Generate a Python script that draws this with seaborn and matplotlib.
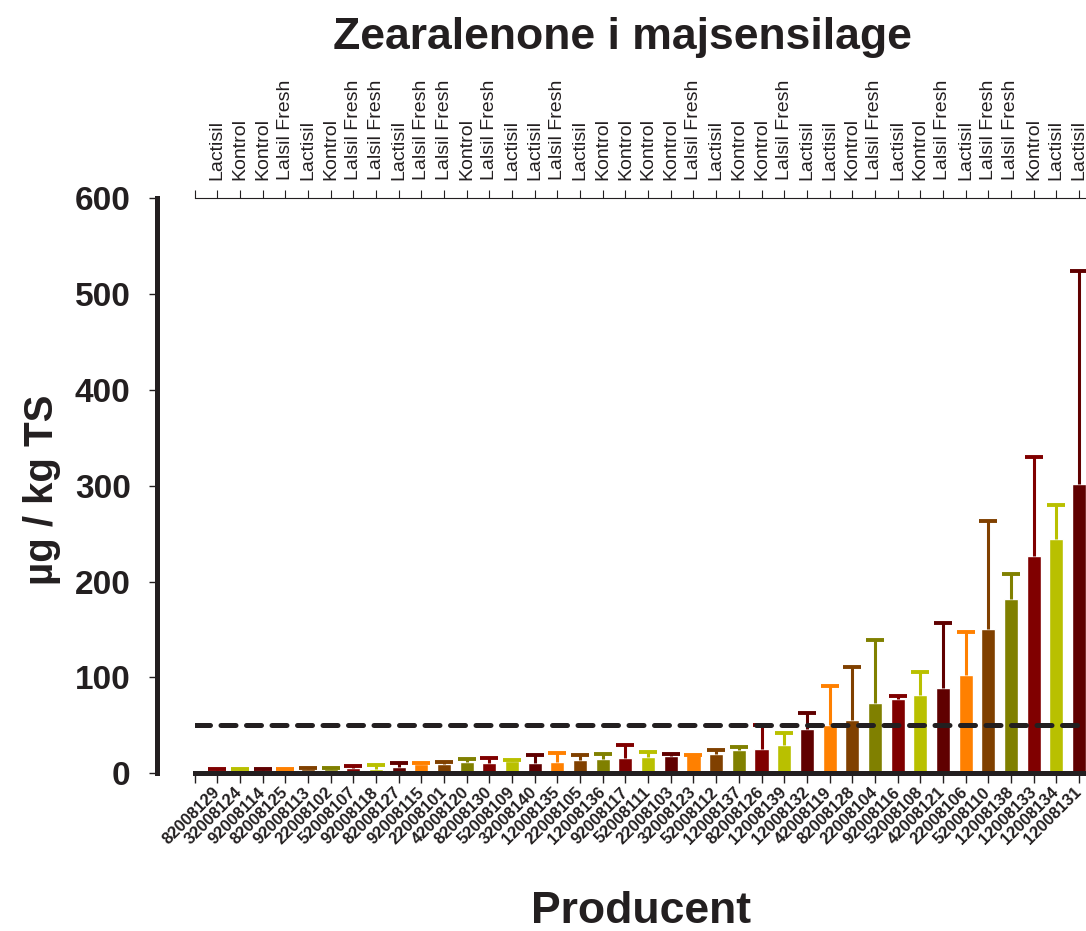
import numpy as np
import seaborn as sns
import matplotlib.pyplot as plt

# Zearalenone i majsensilage - middel og std. afv. pr. producent
producers = ['82008129', '32008124', '92008114', '82008125', '92008113', '22008102',
             '52008107', '92008118', '82008127', '92008115', '22008101', '42008120',
             '82008130', '52008109', '32008140', '12008135', '22008105', '12008136',
             '92008117', '52008111', '22008103', '32008123', '52008112', '12008137',
             '82008126', '12008139', '12008132', '42008119', '82008128', '22008104',
             '92008116', '52008108', '42008121', '22008106', '52008110', '12008138',
             '12008133', '12008134', '12008131']

treatment = ['Lactisil', 'Kontrol', 'Kontrol', 'Lalsil Fresh', 'Lactisil', 'Kontrol',
             'Lalsil Fresh', 'Lalsil Fresh', 'Lactisil', 'Lalsil Fresh', 'Lalsil Fresh',
             'Kontrol', 'Lalsil Fresh', 'Lactisil', 'Lactisil', 'Lalsil Fresh', 'Lactisil',
             'Kontrol', 'Kontrol', 'Kontrol', 'Kontrol', 'Lalsil Fresh', 'Lactisil',
             'Kontrol', 'Kontrol', 'Lalsil Fresh', 'Lactisil', 'Lactisil', 'Kontrol',
             'Lalsil Fresh', 'Lactisil', 'Kontrol', 'Lalsil Fresh', 'Lactisil',
             'Lalsil Fresh', 'Lalsil Fresh', 'Kontrol', 'Lactisil', 'Lactisil']

mean_zea = [3, 3.5, 3.5, 4, 4.5, 4.5, 6, 4.5, 7, 10, 10, 11.5, 11, 13, 11, 11.5, 13.5,
            15, 16, 17, 18, 19, 20, 24.5, 25.5, 30, 46, 50, 56, 73, 78, 82, 89, 103,
            151, 182, 227, 244, 302]

sd_zea = [1, 1, 1, 1, 1.5, 1.5, 1.5, 4, 3.5, 0.5, 2, 3.5, 5, 0.5, 8, 9.5, 5.5, 5, 13,
          5, 2.5, 0.5, 4.5, 2.5, 24.5, 12.5, 17, 41, 55, 66, 3, 24, 68, 44, 112, 26,
          103, 36, 222]

limit = 50

ink = '#231f20'
cycle = ['#800000', '#b9c000', '#600000', '#ff8000', '#804000', '#808000']
bar_colors = [cycle[i % len(cycle)] for i in range(len(producers))]

sns.set_style('white')
plt.rcParams['font.family'] = ['Liberation Sans', 'DejaVu Sans']

W, H = 1086, 931
fig = plt.figure(figsize=(W / 100, H / 100), dpi=100)
ax = fig.add_axes([194.6 / W, (H - 773.3) / H, (W - 194.6) / W, (773.3 - 198) / H])

sns.barplot(x=producers, y=mean_zea, hue=producers, order=producers,
            hue_order=producers, palette=bar_colors, width=0.62, saturation=1,
            errorbar=None, legend=False, ax=ax, zorder=2)

# only the upper half of the error bar, same colour as the bar
pos = np.arange(len(producers))
for x, m, s, c in zip(pos, mean_zea, sd_zea, bar_colors):
    eb = ax.errorbar(x, m, yerr=[[0], [s]], fmt='none', ecolor=c, elinewidth=2.2,
                     capsize=6.8, capthick=2.8, zorder=3)
    eb[1][0].set_visible(False)  # no cap at the bar top

ax.axhline(limit, color=ink, lw=3.6, ls=(0, (3, 2.1)), dash_capstyle='round', zorder=5)

ax.set_xlim(-1, len(producers) - 1 + 0.31)
ax.set_ylim(0, 600)
ax.set_xlabel('')
ax.set_ylabel('')

# spines
for side in ['top', 'right']:
    ax.spines[side].set_visible(False)
ax.spines['left'].set_position(('outward', 27))
ax.spines['left'].set_bounds(0, 600)
ax.spines['left'].set_linewidth(3.6)
ax.spines['left'].set_color(ink)
ax.spines['bottom'].set_linewidth(3.6)
ax.spines['bottom'].set_color(ink)

# y axis
ax.set_yticks(range(0, 601, 100))
ax.tick_params(axis='y', direction='out', length=6, width=1, pad=13,
               labelsize=24, color=ink, labelcolor=ink, left=True)
for t in ax.get_yticklabels():
    t.set_fontweight('bold')

# bottom axis: producer ids
ax.set_xticks(range(-1, len(producers)), labels=[''] + producers)
ax.tick_params(axis='x', direction='out', length=7, width=1, pad=5,
               labelsize=12, color=ink, labelcolor=ink, bottom=True)
for t in ax.get_xticklabels():
    t.set_rotation(45)
    t.set_ha('right')
    t.set_va('center')
    t.set_rotation_mode('anchor')
    t.set_fontweight('bold')

# top axis: treatment
top = ax.secondary_xaxis('top')
top.set_xticks(range(-1, len(producers)), labels=[''] + treatment)
top.spines['top'].set_linewidth(0.8)
top.spines['top'].set_color(ink)
top.tick_params(axis='x', direction='out', length=6, width=0.8, pad=7,
                labelsize=14, color=ink, labelcolor=ink, rotation=90)

fig.text(622.5 / W, 1 - 49 / H, 'Zearalenone i majsensilage', ha='center',
         va='baseline', fontsize=32, fontweight='bold', color=ink)
fig.text(42 / W, 1 - 490 / H, 'µg / kg TS', rotation=90, ha='center', va='center',
         fontsize=29, fontweight='bold', color=ink)
fig.text(641 / W, 1 - 923 / H, 'Producent', ha='center', va='baseline',
         fontsize=32, fontweight='bold', color=ink)

fig.savefig('out.png', dpi=100)
